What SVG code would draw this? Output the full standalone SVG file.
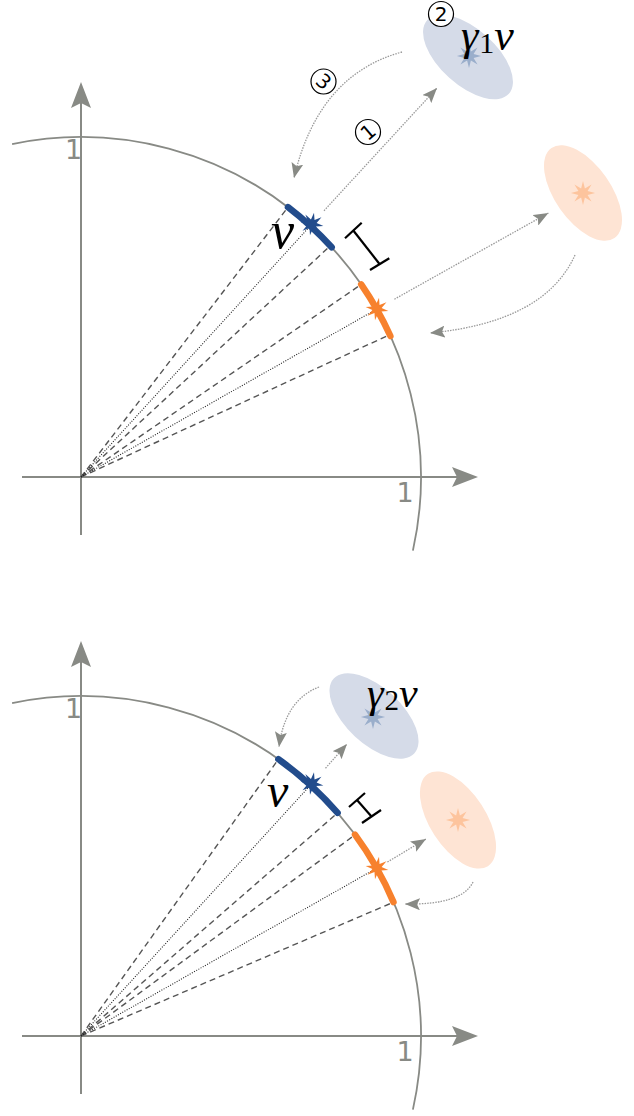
<svg xmlns="http://www.w3.org/2000/svg" xmlns:xlink="http://www.w3.org/1999/xlink" width="634" height="1116" viewBox="0 0 634 1116">
<style>
.axis{stroke:#888a85;stroke-width:2;fill:none}
.axhead{fill:#888a85}
.circ{stroke:#888a85;stroke-width:1.8;fill:none}
.dash{stroke:#555;stroke-width:1.4;stroke-dasharray:6 4;fill:none}
.dot{stroke:#222;stroke-width:1.1;stroke-dasharray:1 1.5;fill:none}
.arr{stroke:#999;stroke-width:1.3;stroke-dasharray:1.5 1.2;fill:none;marker-end:url(#ah)}
.segb{stroke:#224c8c;stroke-width:6.5;stroke-linecap:round;fill:none}
.sego{stroke:#f7812d;stroke-width:6.5;stroke-linecap:round;fill:none}
.brk{stroke:#000;stroke-width:2.2;fill:none}
.num{font-family:"DejaVu Sans",sans-serif;fill:#888a85;font-size:27px;text-anchor:middle}
.math{font-family:"Liberation Serif",serif;font-style:italic;fill:#000}
.cn{stroke:#000;stroke-width:1.2;fill:#fff}
.cnt{font-family:"DejaVu Sans",sans-serif;font-size:20px;text-anchor:middle;fill:#000}
</style>
<defs>
<marker id="ah" markerUnits="userSpaceOnUse" markerWidth="16" markerHeight="12" refX="15" refY="6" orient="auto">
<path d="M0,0 L15,6 L0,12 L3,6 z" fill="#888a85"/>
</marker>
<path id="star" d="M11,0 L4.16,1.72 L7.78,7.78 L1.72,4.16 L0,11 L-1.72,4.16 L-7.78,7.78 L-4.16,1.72 L-11,0 L-4.16,-1.72 L-7.78,-7.78 L-1.72,-4.16 L0,-11 L1.72,-4.16 L7.78,-7.78 L4.16,-1.72 Z"/>
</defs>

<!-- ===== TOP PANEL ===== -->
<g id="top-axes">
<line class="axis" x1="22" y1="477" x2="462" y2="477"/>
<polygon class="axhead" points="478,477 452,467 457,477 452,487"/>
<line class="axis" x1="81" y1="535" x2="81" y2="100"/>
<polygon class="axhead" points="81,82 71,108 81,103 91,108"/>
<text class="num" x="73.5" y="159">1</text>
<text class="num" x="405" y="502">1</text>
</g>
<g id="top-circle">
<path class="circ" d="M12.1,144.1 A340,340 0 0 1 412.9,550.6"/>
</g>
<g id="top-rays">
<line class="dash" x1="81" y1="477" x2="286.8" y2="208.8"/>
<line class="dash" x1="81" y1="477" x2="330.2" y2="245.9"/>
<line class="dash" x1="81" y1="477" x2="359.6" y2="285.5"/>
<line class="dash" x1="81" y1="477" x2="388.6" y2="335.2"/>
<line class="dot" x1="81" y1="477" x2="312" y2="224"/>
<line class="dot" x1="81" y1="477" x2="377" y2="309"/>
</g>
<g id="top-blue-seg">
<path class="segb" d="M288,207.2 A340,340 0 0 1 331.7,247.3"/>
<use href="#star" fill="#224c8c" transform="translate(312,224) rotate(10) scale(1.05)"/>
<text class="math" x="271" y="248" font-size="52">v</text>
</g>
<g id="top-orange-seg">
<path class="sego" d="M361.2,284.4 A340,340 0 0 1 390.4,336"/>
<use href="#star" fill="#f7812d" transform="translate(377,309) rotate(10) scale(1.05)"/>
</g>
<g id="top-gap">
<line class="brk" x1="345" y1="238.3" x2="361.7" y2="222.7"/>
<line class="brk" x1="353.3" y1="230.5" x2="379.7" y2="264.2"/>
<line class="brk" x1="370" y1="270" x2="389.3" y2="258.3"/>
</g>
<g id="top-blue-image">
<ellipse cx="468" cy="57" rx="55" ry="28" transform="rotate(42 468 57)" fill="#d5dbe8"/>
<use href="#star" fill="#9aaecb" transform="translate(469,56) scale(1.1)"/>
<text class="math" x="461" y="50" font-size="44">γ<tspan font-style="normal" font-size="30" dx="1" dy="3">1</tspan><tspan dy="-3">v</tspan></text>
</g>
<g id="top-orange-image">
<ellipse cx="583" cy="193" rx="55" ry="28" transform="rotate(55 583 193)" fill="#fee4d4"/>
<use href="#star" fill="#fdc49d" transform="translate(583,193) scale(1.1)"/>
</g>
<g id="top-connectors">
<line class="arr" x1="324" y1="210.7" x2="437" y2="88"/>
<path class="arr" d="M402,52 Q318,75 294,178"/>
<line class="arr" x1="394.4" y1="299.2" x2="548.4" y2="213"/>
<path class="arr" d="M575,255 Q545,322 430,333"/>
</g>
<g id="step-labels">
<circle class="cn" cx="368" cy="132" r="12.5"/>
<text class="cnt" transform="translate(368,132) rotate(-40)" y="7">1</text>
<circle class="cn" cx="441" cy="14" r="12.5"/>
<text class="cnt" x="441" y="21">2</text>
<circle class="cn" cx="323.5" cy="81.5" r="12.5"/>
<text class="cnt" transform="translate(323.5,81.5) rotate(40)" y="7">3</text>
</g>

<!-- ===== BOTTOM PANEL ===== -->
<g id="bottom-axes">
<line class="axis" x1="22" y1="1036" x2="462" y2="1036"/>
<polygon class="axhead" points="478,1036 452,1026 457,1036 452,1046"/>
<line class="axis" x1="81" y1="1094" x2="81" y2="659"/>
<polygon class="axhead" points="81,641 71,667 81,662 91,667"/>
<text class="num" x="73.5" y="718">1</text>
<text class="num" x="405" y="1061">1</text>
</g>
<g id="bottom-circle">
<path class="circ" d="M12.1,703.1 A340,340 0 0 1 412.9,1109.6"/>
</g>
<g id="bottom-rays">
<line class="dash" x1="81" y1="1036" x2="277.3" y2="760.8"/>
<line class="dash" x1="81" y1="1036" x2="336.1" y2="814.2"/>
<line class="dash" x1="81" y1="1036" x2="353.4" y2="836"/>
<line class="dash" x1="81" y1="1036" x2="391.6" y2="903"/>
<line class="dot" x1="81" y1="1036" x2="312" y2="783.5"/>
<line class="dot" x1="81" y1="1036" x2="377" y2="868"/>
</g>
<g id="bottom-blue-seg">
<path class="segb" d="M278.4,759.2 A340,340 0 0 1 337.6,812.9"/>
<use href="#star" fill="#224c8c" transform="translate(312,783.5) rotate(10) scale(1.05)"/>
<text class="math" x="267" y="807" font-size="48">v</text>
</g>
<g id="bottom-orange-seg">
<path class="sego" d="M355,834.7 A340,340 0 0 1 393.5,902.1"/>
<use href="#star" fill="#f7812d" transform="translate(377,868) rotate(10) scale(1.05)"/>
</g>
<g id="bottom-gap">
<line class="brk" x1="349" y1="807" x2="365" y2="793"/>
<line class="brk" x1="357" y1="800" x2="371.5" y2="816.5"/>
<line class="brk" x1="362" y1="823" x2="381" y2="810"/>
</g>
<g id="bottom-blue-image">
<ellipse cx="374" cy="716" rx="55" ry="28" transform="rotate(43 374 716)" fill="#d5dbe8"/>
<use href="#star" fill="#9aaecb" transform="translate(373,717) scale(1.1)"/>
<text class="math" x="367" y="707" font-size="42">γ<tspan font-style="normal" font-size="29" dx="1" dy="3">2</tspan><tspan dy="-3">v</tspan></text>
</g>
<g id="bottom-orange-image">
<ellipse cx="458" cy="820" rx="55" ry="28" transform="rotate(57 458 820)" fill="#fee4d4"/>
<use href="#star" fill="#fdc49d" transform="translate(458,820) scale(1.1)"/>
</g>
<g id="bottom-connectors">
<line class="arr" x1="325.5" y1="768.2" x2="347" y2="744"/>
<path class="arr" d="M319,687 Q285,700 279,747"/>
<line class="arr" x1="387.4" y1="862" x2="426" y2="839"/>
<path class="arr" d="M473,882 Q462,905 405,904"/>
</g>
</svg>
